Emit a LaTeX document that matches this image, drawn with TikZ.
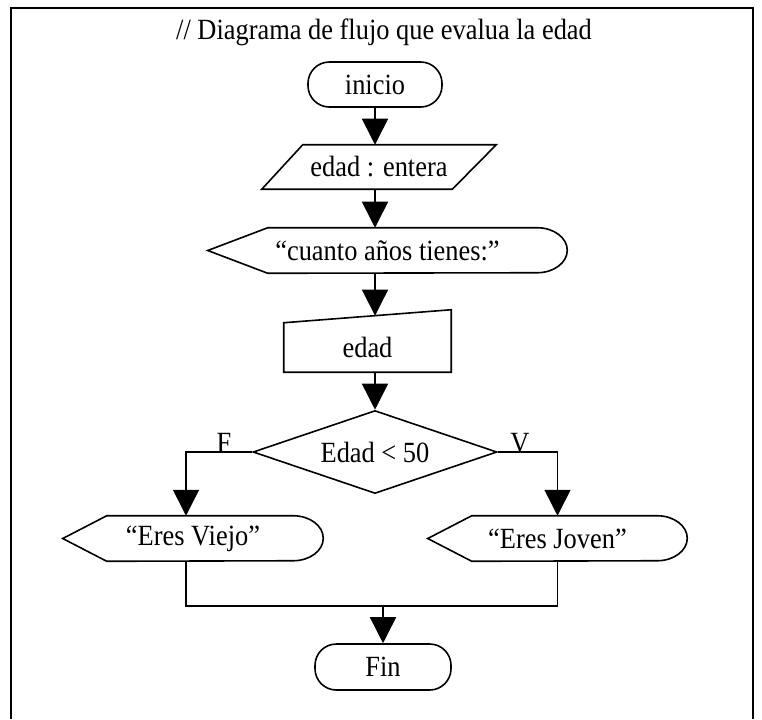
\documentclass[tikz,border=0pt]{standalone}
\usepackage{fontspec}
\setmainfont{Liberation Serif}[FakeStretch=0.9]
\usetikzlibrary{arrows.meta,shapes.geometric,calc}
\begin{document}
\begin{tikzpicture}[x=0.75pt,y=0.75pt,
  txt/.style={font=\fontsize{22}{26}\selectfont, inner sep=0pt},
  blk/.style={txt, minimum height=33.75pt},
  outl/.style={line width=1.2pt, line join=miter},
  conn/.style={line width=1.2pt},
  arr/.style={line width=1.2pt, -{Triangle[width=19.5pt,length=19.5pt]}},
  term/.style={blk, draw, line width=1.2pt, rounded corners=16pt, minimum width=100.5pt}
]
\useasboundingbox (0,0) rectangle (762,-719);
\draw[line width=1.5pt] (11,-719) -- (11,-8) -- (753,-8) -- (753,-719);

\node[txt, anchor=base] (title) at (384,-39) {// Diagrama de flujo que evalua la edad};

\node[term] (inicio) at (375,-84.5) {inicio};

\node[blk, minimum width=175.5pt, minimum height=33pt] (tipo) at (379,-167) {edad : entera};
\draw[outl] ($(tipo.north west)+(41,0)$) -- (tipo.north east) -- ($(tipo.south east)+(-44,0)$) -- (tipo.south west) -- cycle;

\node[blk, minimum width=269.25pt] (cuanto) at (387.5,-250.5) {“cuanto años tienes:”};
\draw[outl] (cuanto.west) -- ($(cuanto.north west)+(60,0)$) -- ($(cuanto.north east)+(-30,0)$) arc[start angle=90,end angle=-90,x radius=30,y radius=22.5] -- ($(cuanto.south west)+(60,0)$) -- cycle;

\node[blk, minimum width=125.25pt, minimum height=36.75pt] (edad) at (367.5,-347.5) {edad};
\draw[outl] (edad.south west) -- (edad.north west) -- ($(edad.north east)+(0,13)$) -- (edad.south east) -- cycle;
\coordinate (edadin) at ($(edad.north west)!0.545!($(edad.north east)+(0,13)$)$);

\node[txt, shape=diamond, draw, line width=1.2pt, aspect=2.94, minimum width=183pt, minimum height=62.25pt] (dec) at (375,-452) {Edad < 50};

\node[blk, minimum width=195pt] (viejo) at (193,-538.5) {“Eres Viejo”};
\draw[outl] (viejo.west) -- ($(viejo.north west)+(44,0)$) -- ($(viejo.north east)+(-30,0)$) arc[start angle=90,end angle=-90,x radius=30,y radius=22.5] -- ($(viejo.south west)+(44,0)$) -- cycle;

\node[blk, minimum width=194.25pt] (joven) at (557.5,-538.5) {“Eres Joven”};
\draw[outl] (joven.west) -- ($(joven.north west)+(44,0)$) -- ($(joven.north east)+(-30,0)$) arc[start angle=90,end angle=-90,x radius=30,y radius=22.5] -- ($(joven.south west)+(44,0)$) -- cycle;

\node[term, minimum width=102pt, minimum height=34.5pt] (fin) at (383,-667) {Fin};

\node[txt, anchor=base] (lf) at (224,-452) {F};
\node[txt, anchor=base] (lv) at (520,-452) {V};

\draw[arr] (inicio.south) -- (inicio.south |- tipo.north);
\draw[arr] (inicio.south |- tipo.south) -- (inicio.south |- cuanto.north);
\draw[arr] (inicio.south |- cuanto.south) -- (edadin);
\draw[arr] (inicio.south |- edad.south) -- (dec.north);
\draw[arr] (dec.west) -| ($(viejo.north)+(-7,0)$);
\draw[arr] (dec.east) -| (joven.north);
\coordinate (mrg) at (383,-606);
\draw[conn] ($(viejo.south)+(-7,0)$) |- (mrg) -| (joven.south);
\draw[arr] (mrg) -- (fin.north);
\end{tikzpicture}
\end{document}
